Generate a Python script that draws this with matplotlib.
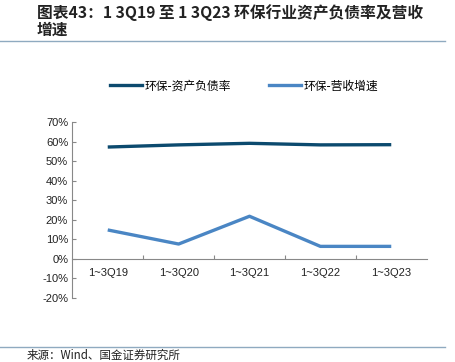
import matplotlib
matplotlib.use("Agg")
import matplotlib.pyplot as plt
from matplotlib.lines import Line2D

plt.rcParams['font.family'] = ['Liberation Sans', 'Noto Sans CJK SC', 'DejaVu Sans']

categories = ["1~3Q19", "1~3Q20", "1~3Q21", "1~3Q22", "1~3Q23"]
debt_ratio = [57.2, 58.3, 59.1, 58.3, 58.4]
revenue_growth = [14.8, 7.6, 21.8, 6.4, 6.4]
yticks = [-20, -10, 0, 10, 20, 30, 40, 50, 60, 70]
series_names = ["环保-资产负债率", "环保-营收增速"]
title_line1 = "图表43：1 3Q19 至 1 3Q23 环保行业资产负债率及营收"
title_line2 = "增速"
source = "来源：Wind、国金证券研究所"

c_dark = "#0C4A6E"
c_light = "#4A86C4"

W, H = 456, 362
fig = plt.figure(figsize=(W/100, H/100), dpi=100)
ax = fig.add_axes([72.3/W, 1-298/H, (426.7-72.3)/W, (298-122)/H])

x = list(range(len(categories)))
ax.plot(x, debt_ratio, color=c_dark, lw=2.4, solid_capstyle='butt')
ax.plot(x, revenue_growth, color=c_light, lw=2.4, solid_capstyle='butt')

ax.set_xlim(-0.5, len(categories)-0.5)
ax.set_ylim(-20, 70)
ax.set_yticks(yticks)
ax.set_yticklabels([f"{v}%" for v in yticks], fontsize=8, color="#222222")
ax.set_xticks([i+0.5 for i in range(len(categories)-1)])
ax.set_xticklabels([])
ax.tick_params(axis='x', which='major', direction='in', length=3, color="#888888", width=0.8)
ax.tick_params(axis='y', direction='in', length=3, color="#888888", width=0.8, pad=3)
for i, lab in enumerate(categories):
    ax.text(i, -7.0, lab, ha='center', va='center', fontsize=8, color="#222222")

for s in ['top', 'right']:
    ax.spines[s].set_visible(False)
ax.spines['bottom'].set_position(('data', 0))
ax.spines['bottom'].set_color("#888888")
ax.spines['left'].set_color("#888888")
ax.spines['bottom'].set_linewidth(0.8)
ax.spines['left'].set_linewidth(0.8)

# legend
handles = [Line2D([], [], color=c_dark, lw=2.4), Line2D([], [], color=c_light, lw=2.4)]
fig.legend(handles, series_names, loc='center left', bbox_to_anchor=(110/W, 1-86/H),
           ncol=2, frameon=False, handlelength=2.7, handletextpad=0.25,
           columnspacing=3.2, borderpad=0, borderaxespad=0,
           prop={'family': ['Noto Sans CJK SC'], 'size': 8.5})

# title
fig.text(37/W, 1-13/H, title_line1, fontsize=11.3, fontweight='bold', style='italic',
         family=['Noto Sans CJK SC'], color="#222222", ha='left', va='center')
fig.text(37/W, 1-30/H, title_line2, fontsize=11.3, fontweight='bold', style='italic',
         family=['Noto Sans CJK SC'], color="#222222", ha='left', va='center')
fig.add_artist(Line2D([0, 445/W], [1-41/H, 1-41/H], color="#8FAAC0", lw=1.0))
fig.add_artist(Line2D([0, 445/W], [1-347/H, 1-347/H], color="#8FAAC0", lw=1.0))
fig.text(27/W, 1-355/H, source, fontsize=8.3, family=['Noto Sans CJK SC'],
         color="#222222", ha='left', va='center')

fig.savefig("out.png", dpi=100)
